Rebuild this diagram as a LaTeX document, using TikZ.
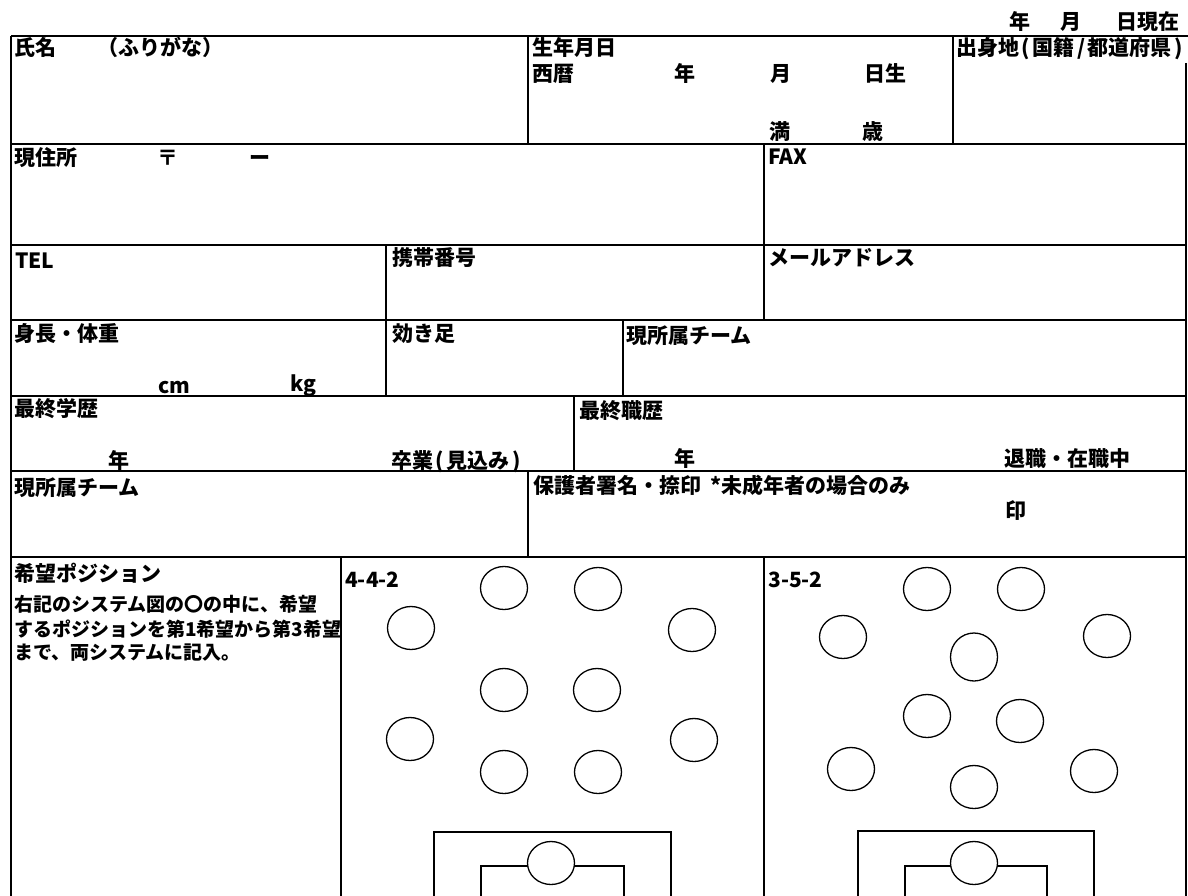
\documentclass[tikz,border=0pt]{standalone}
\usepackage{fontspec}
\setmainfont{Noto Sans CJK JP}
\usetikzlibrary{shapes.geometric}
\tikzset{
  formline/.style  = {line width=2.8pt},
  penbox/.style    = {line width=2.8pt},
  cell text/.style = {anchor=base west, inner sep=0pt, font=\fontsize{21pt}{21pt}\selectfont\bfseries},
  note text/.style = {cell text, font=\fontsize{19pt}{19pt}\selectfont\bfseries},
  slot/.style      = {draw, ellipse, line width=1.3pt, fill=white, inner sep=0pt,
                      minimum width=47pt, minimum height=43pt}
}
\newcommand{\gapsym}[1]{\hspace{2.5pt}#1\hspace{2.5pt}}

\begin{document}
\begin{tikzpicture}[x=1pt, y=-1pt]
\useasboundingbox (0,0) rectangle (1188,896);

% frame of the form
\draw[formline] (11,36) -- (1188,36);
\draw[formline] (11,36) -- (11,900);
\draw[formline] (1186,63) -- (1186,900);
\draw[formline] (11,144) -- (1186,144);
\draw[formline] (11,245) -- (1186,245);
\draw[formline] (11,320) -- (1186,320);
\draw[formline] (11,396) -- (1186,396);
\draw[formline] (11,471) -- (1186,471);
\draw[formline] (11,557) -- (1186,557);

\draw[formline] (528,36) -- (528,144);
\draw[formline] (953,36) -- (953,144);
\draw[formline] (764,144) -- (764,320);
\draw[formline] (386,245) -- (386,396);
\draw[formline] (623,320) -- (623,396);
\draw[formline] (574,396) -- (574,471);
\draw[formline] (528,471) -- (528,557);
\draw[formline] (341,557) -- (341,900);
\draw[formline] (764,557) -- (764,900);

\node[cell text] (today y) at (1009,29.5) {年};
\node[cell text] (today m) at (1060,29.5) {月};
\node[cell text] (today d) at (1116,29.5) {日現在};

\node[cell text] (name) at (14,55.5) {氏名};
\node[cell text] (kana) at (97,55.5) {（ふりがな）};
\node[cell text] (birth) at (532,55.5) {生年月日};
\node[cell text] (era) at (532,81.5) {西暦};
\node[cell text] (birth y) at (674,81.5) {年};
\node[cell text] (birth m) at (770,81.5) {月};
\node[cell text] (birth d) at (864,81.5) {日生};
\node[cell text] (age) at (769,140) {満};
\node[cell text] (age unit) at (862,140) {歳};
\node[cell text] (origin) at (956,56) {出身地\gapsym{(}国籍\gapsym{/}都道府県\gapsym{)}};

\node[cell text] (address) at (14,165.5) {現住所};
\node[cell text] (zip) at (157,165.5) {〒};
\node[cell text] (zip dash) at (249,165.5) {ー};
\node[cell text] (fax) at (768,165) {FAX};

\node[cell text] (tel) at (15,268) {TEL};
\node[cell text] (mobile) at (392,265.5) {携帯番号};
\node[cell text] (mail) at (768,265.5) {メールアドレス};

\node[cell text] (body) at (14,341.5) {身長・体重};
\node[cell text] (cm) at (158,393) {cm};
\node[cell text] (kg) at (290,391) {kg};
\node[cell text] (foot) at (392,341.5) {効き足};
\node[cell text] (team a) at (626,343.5) {現所属チーム};

\node[cell text] (school) at (14,416.5) {最終学歴};
\node[cell text] (school y) at (108,468.5) {年};
\node[cell text] (graduate) at (391,468.5) {卒業\gapsym{(}見込み\gapsym{)}};
\node[cell text] (job) at (579,418.5) {最終職歴};
\node[cell text] (job y) at (674,466) {年};
\node[cell text] (job state) at (1004,466) {退職・在職中};

\node[cell text] (team b) at (14,495.5) {現所属チーム};
\node[cell text] (guardian) at (533,493.5) {保護者署名・捺印\ \ *未成年者の場合のみ};
\node[cell text] (seal) at (1005,518) {印};

\node[cell text] (wish) at (14,581.5) {希望ポジション};
\node[note text] (wish 1) at (14,611.5) {右記のシステム図の〇の中に、希望};
\node[note text] (wish 2) at (14,636) {するポジションを第1希望から第3希望};
\node[note text] (wish 3) at (14,659.5) {まで、両システムに記入。};

\node[cell text] (sys a) at (345,587) {4-4-2};
\node[cell text] (sys b) at (768,587) {3-5-2};

% 4-4-2
\node[slot] (a1) at (504,588) {};
\node[slot] (a2) at (598,589) {};
\node[slot] (a3) at (411,628) {};
\node[slot] (a4) at (692,630) {};
\node[slot] (a5) at (504,690) {};
\node[slot] (a6) at (597,690) {};
\node[slot] (a7) at (410,739) {};
\node[slot] (a8) at (694,740) {};
\node[slot] (a9) at (504,772) {};
\node[slot] (a10) at (598,772) {};
\draw[penbox] (434,900) -- (434,832) -- (671,832) -- (671,900);
\draw[penbox] (481,900) -- (481,866) -- (624,866) -- (624,900);
\node[slot] (a gk) at (551,863) {};

% 3-5-2
\node[slot] (b1) at (927,589) {};
\node[slot] (b2) at (1021,589) {};
\node[slot] (b3) at (843,637) {};
\node[slot, minimum height=48pt] (b4) at (974,657) {};
\node[slot] (b5) at (1107,636) {};
\node[slot] (b6) at (927,716) {};
\node[slot] (b7) at (1020,721) {};
\node[slot] (b8) at (851,769) {};
\node[slot] (b9) at (974,787) {};
\node[slot] (b10) at (1094,771) {};
\draw[penbox] (858,900) -- (858,831) -- (1094,831) -- (1094,900);
\draw[penbox] (905,900) -- (905,866) -- (1047,866) -- (1047,900);
\node[slot] (b gk) at (974,863) {};

\end{tikzpicture}
\end{document}
